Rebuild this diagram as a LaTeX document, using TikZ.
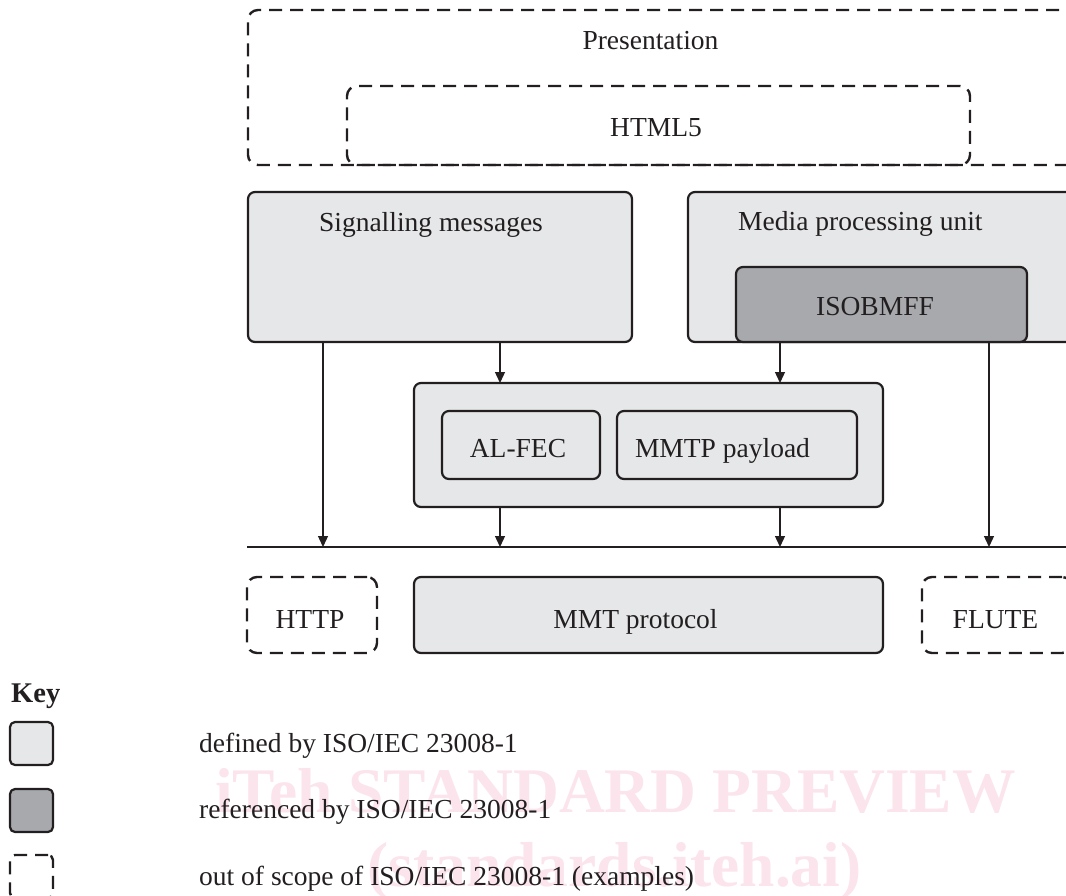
\documentclass[tikz,border=0pt]{standalone}
\usepackage{fontspec}
\setmainfont{Liberation Serif}
\usetikzlibrary{arrows.meta}
\definecolor{lightfill}{HTML}{E6E7E8}
\definecolor{darkfill}{HTML}{A7A9AC}
\definecolor{ink}{HTML}{231F20}
\definecolor{wmark}{HTML}{FBE4EB}
\begin{document}
\begin{tikzpicture}[x=1pt,y=-1pt,line join=round,
  solidbox/.style={draw=ink,line width=2.2pt,rounded corners=7pt,fill=lightfill,inner sep=0pt,outer sep=0pt},
  refbox/.style={solidbox,fill=darkfill},
  scopebox/.style={draw=ink,line width=2.4pt,rounded corners=10pt,dash pattern=on 13pt off 8pt,inner sep=0pt,outer sep=0pt},
  lbl/.style={anchor=base,text=ink,inner sep=0pt,font=\fontsize{27.5}{33}\selectfont},
  wmtext/.style={anchor=base,text=wmark,inner sep=0pt,font=\fontsize{63.5}{70}\selectfont\bfseries},
  flow/.style={draw=ink,line width=1.3pt,-{Triangle[length=11pt,width=10pt]}},
  bus/.style={draw=ink,line width=1.3pt}]
\useasboundingbox (0,0) rectangle (1066,895);
\clip (0,0) rectangle (1066,895);

% out of scope boxes
\node[scopebox,minimum width=842pt,minimum height=155pt] (pres) at (669,87.5) {};
\node[scopebox,minimum width=623pt,minimum height=79pt] (html) at (658.5,125.5) {};

% defined and referenced boxes
\node[solidbox,minimum width=384pt,minimum height=150pt] (sig) at (440,267) {};
\node[solidbox,minimum width=402pt,minimum height=150pt] (mpu) at (889,267) {};
\node[refbox,minimum width=291pt,minimum height=75pt] (iso) at (881.5,304.5) {};
\node[solidbox,minimum width=469pt,minimum height=124pt] (mid) at (648.5,445) {};
\node[solidbox,minimum width=158pt,minimum height=68pt] (alfec) at (521,445) {};
\node[solidbox,minimum width=240pt,minimum height=68pt] (pay) at (737,445) {};
\node[scopebox,minimum width=130pt,minimum height=76pt] (http) at (312,615) {};
\node[solidbox,minimum width=469pt,minimum height=76pt] (mmt) at (648.5,615) {};
\node[scopebox,minimum width=150pt,minimum height=76pt] (flute) at (997,615) {};

% bus line
\coordinate (busL) at (247,547);
\coordinate (busR) at (1090,547);
\draw[bus] (busL) -- (busR);

\coordinate (t1) at (323,547);
\coordinate (t2) at (500,547);
\coordinate (t3) at (780,547);
\coordinate (t4) at (989,547);
\draw[flow] (t1 |- sig.south) -- (t1);
\draw[flow] (t2 |- sig.south) -- (t2 |- mid.north);
\draw[flow] (t2 |- mid.south) -- (t2);
\draw[flow] (t3 |- iso.south) -- (t3 |- mid.north);
\draw[flow] (t3 |- mid.south) -- (t3);
\draw[flow] (t4 |- mpu.south) -- (t4);

% labels
\node[lbl] (tpres) at (650.5,49) {Presentation};
\node[lbl] (thtml) at (656,136) {HTML5};
\node[lbl] (tsig) at (431,231) {Signalling messages};
\node[lbl,anchor=base west] (tmpu) at (738,230) {Media processing unit};
\node[lbl] (tiso) at (875,315) {ISOBMFF};
\node[lbl] (talfec) at (518,457) {AL-FEC};
\node[lbl] (tpay) at (722.5,457) {MMTP payload};
\node[lbl] (thttp) at (310,628) {HTTP};
\node[lbl] (tmmt) at (635.5,628) {MMT protocol};
\node[lbl] (tflute) at (995.5,628) {FLUTE};

% watermark
\node[wmtext] (wm1) at (615.5,812) {iTeh STANDARD PREVIEW};
\node[wmtext] (wm2) at (614.5,886) {(standards.iteh.ai)};

% key
\node[lbl,anchor=base west,font=\fontsize{28.5}{33}\selectfont\bfseries] (tkey) at (11,702) {Key};
\node[solidbox,minimum width=43pt,minimum height=43pt,rounded corners=5pt] (key1) at (31.5,743.5) {};
\node[refbox,minimum width=43pt,minimum height=43pt,rounded corners=5pt] (key2) at (31.5,810.5) {};
\node[scopebox,minimum width=43pt,minimum height=43pt,rounded corners=5pt] (key3) at (31.5,876.5) {};
\node[lbl,anchor=base west] (k1t) at (199,752) {defined by ISO/IEC 23008-1};
\node[lbl,anchor=base west] (k2t) at (199,818) {referenced by ISO/IEC 23008-1};
\node[lbl,anchor=base west] (k3t) at (199,885) {out of scope of ISO/IEC 23008-1 (examples)};
\end{tikzpicture}
\end{document}
